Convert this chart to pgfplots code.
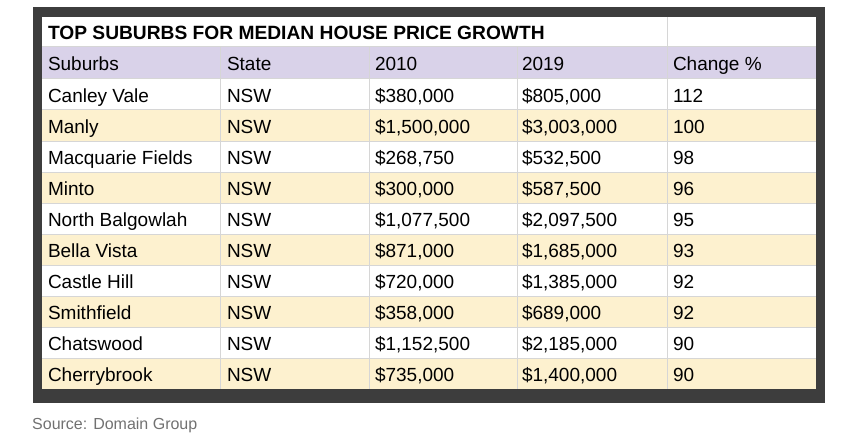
\documentclass[border=0pt]{standalone}
\usepackage{pgfplots}
\usepackage{pgfplotstable}
\pgfplotsset{compat=1.18}
\usepackage{fontspec}
\setmainfont{Liberation Sans}
\definecolor{framec}{HTML}{3D3D3D}
\definecolor{hdr}{HTML}{D9D2E9}
\definecolor{alt}{HTML}{FDF1CF}
\definecolor{gridc}{HTML}{D6D6D6}
\definecolor{src}{HTML}{717171}
\tikzset{cellstyle/.style={anchor=base west, inner sep=0pt, outer sep=0pt,
    font=\fontsize{19bp}{22bp}\selectfont, text=black}}
\pgfplotstableread[col sep=comma]{
r,suburb,state,p2010,p2019,chg
0,Canley Vale,NSW,380000,805000,112
1,Manly,NSW,1500000,3003000,100
2,Macquarie Fields,NSW,268750,532500,98
3,Minto,NSW,300000,587500,96
4,North Balgowlah,NSW,1077500,2097500,95
5,Bella Vista,NSW,871000,1685000,93
6,Castle Hill,NSW,720000,1385000,92
7,Smithfield,NSW,358000,689000,92
8,Chatswood,NSW,1152500,2185000,90
9,Cherrybrook,NSW,735000,1400000,90
}\housedata
\begin{document}
\begin{tikzpicture}
\begin{axis}[
  width=864bp, height=435bp, scale only axis,
  xmin=0, xmax=864, ymin=0, ymax=435, y dir=reverse,
  hide axis, clip=false,
  /pgf/number format/fixed,
  /pgf/number format/precision=0,
  /pgf/number format/1000 sep={,},
  /pgf/number format/assume math mode=true,
]
\path (rel axis cs:0,0) rectangle (rel axis cs:1,1);
% frame and backgrounds
\fill[framec] (axis cs:33,7) rectangle (axis cs:825,403);
\fill[white] (axis cs:42,17) rectangle (axis cs:816,389);
\fill[hdr] (axis cs:42,47) rectangle (axis cs:816,79);
\fill[alt] (axis cs:42,110) rectangle (axis cs:816,141);
\fill[alt] (axis cs:42,172) rectangle (axis cs:816,203);
\fill[alt] (axis cs:42,234) rectangle (axis cs:816,265);
\fill[alt] (axis cs:42,296) rectangle (axis cs:816,327);
\fill[alt] (axis cs:42,358) rectangle (axis cs:816,389);
% grid lines
\draw[gridc, line width=1bp] (axis cs:42,47) -- (axis cs:816,47);
\draw[gridc, line width=1bp] (axis cs:42,79) -- (axis cs:816,79);
\draw[gridc, line width=1bp] (axis cs:42,110) -- (axis cs:816,110);
\draw[gridc, line width=1bp] (axis cs:42,141) -- (axis cs:816,141);
\draw[gridc, line width=1bp] (axis cs:42,172) -- (axis cs:816,172);
\draw[gridc, line width=1bp] (axis cs:42,203) -- (axis cs:816,203);
\draw[gridc, line width=1bp] (axis cs:42,234) -- (axis cs:816,234);
\draw[gridc, line width=1bp] (axis cs:42,265) -- (axis cs:816,265);
\draw[gridc, line width=1bp] (axis cs:42,296) -- (axis cs:816,296);
\draw[gridc, line width=1bp] (axis cs:42,327) -- (axis cs:816,327);
\draw[gridc, line width=1bp] (axis cs:42,358) -- (axis cs:816,358);
\draw[gridc, line width=1bp] (axis cs:220,47) -- (axis cs:220,389);
\draw[gridc, line width=1bp] (axis cs:369,47) -- (axis cs:369,389);
\draw[gridc, line width=1bp] (axis cs:517,47) -- (axis cs:517,389);
\draw[gridc, line width=1bp] (axis cs:667,17) -- (axis cs:667,389);
% title and header
\node[cellstyle, font=\fontsize{19.2bp}{22bp}\selectfont\bfseries] at (axis cs:48,39.5) {TOP SUBURBS FOR MEDIAN HOUSE PRICE GROWTH};
\node[cellstyle] at (axis cs:48,71) {Suburbs};
\node[cellstyle] at (axis cs:227,71) {State};
\node[cellstyle] at (axis cs:375,71) {2010};
\node[cellstyle] at (axis cs:522,71) {2019};
\node[cellstyle] at (axis cs:673,71) {Change \%};
% body cells
\addplot[draw=none, nodes near coords, point meta=explicit symbolic,
  every node near coord/.append style={cellstyle}]
  table[x expr=48, y expr=102+31*\thisrow{r}, meta=suburb] {\housedata};
\addplot[draw=none, nodes near coords, point meta=explicit symbolic,
  every node near coord/.append style={cellstyle}]
  table[x expr=227, y expr=102+31*\thisrow{r}, meta=state] {\housedata};
\addplot[draw=none, nodes near coords={\$\pgfmathprintnumber{\pgfplotspointmeta}},
  point meta=\thisrow{p2010},
  every node near coord/.append style={cellstyle}]
  table[x expr=375, y expr=102+31*\thisrow{r}] {\housedata};
\addplot[draw=none, nodes near coords={\$\pgfmathprintnumber{\pgfplotspointmeta}},
  point meta=\thisrow{p2019},
  every node near coord/.append style={cellstyle}]
  table[x expr=522, y expr=102+31*\thisrow{r}] {\housedata};
\addplot[draw=none, nodes near coords={\pgfmathprintnumber{\pgfplotspointmeta}},
  point meta=\thisrow{chg},
  every node near coord/.append style={cellstyle}]
  table[x expr=673, y expr=102+31*\thisrow{r}] {\housedata};
% source
\node[anchor=base west, inner sep=0pt, text=src, font=\fontsize{16bp}{19bp}\selectfont] at (axis cs:32,429) {Source: Domain Group};
\end{axis}
\end{tikzpicture}
\end{document}
